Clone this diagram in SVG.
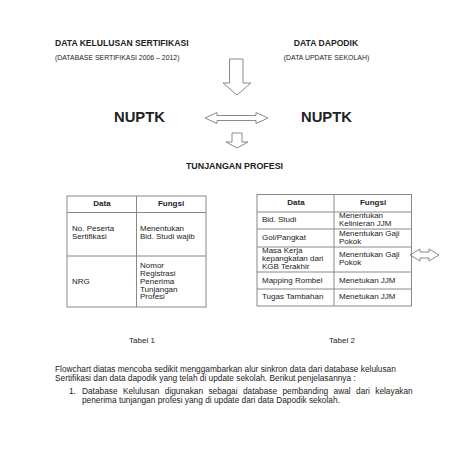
<svg xmlns="http://www.w3.org/2000/svg" width="452" height="452" viewBox="0 0 452 452">
<style>
text{font-family:"Liberation Sans",Arial,sans-serif;fill:#222}
.t{font-size:8.6px;font-weight:bold}
.s{font-size:6.9px}
.big{font-size:14.8px;font-weight:bold}
.c{font-size:8px}
.h{font-size:8px;font-weight:bold}
.b{font-size:8.3px}
.grid{fill:none;stroke:#888;stroke-width:1}
.arr{fill:#fff;stroke:#8a8a8a;stroke-width:1;stroke-linejoin:miter}
</style>
<rect width="452" height="452" fill="#fff"/>
<g id="title-sertifikasi">
<text class="t" x="55" y="46">DATA KELULUSAN SERTIFIKASI</text>
<text class="s" x="55" y="60">(DATABASE SERTIFIKASI 2006 – 2012)</text>
</g>
<g id="title-dapodik">
<text class="t" x="326" y="46" text-anchor="middle">DATA DAPODIK</text>
<text class="s" x="326.5" y="60" text-anchor="middle">(DATA UPDATE SEKOLAH)</text>
</g>
<g id="nuptk-left"><text class="big" x="114" y="122">NUPTK</text></g>
<g id="nuptk-right"><text class="big" x="301" y="122">NUPTK</text></g>
<g id="tunjangan"><text class="t" x="234.5" y="169" text-anchor="middle" style="font-size:8.9px">TUNJANGAN PROFESI</text></g>
<g id="connectors">
<path class="arr" d="M229.5,59 L243,59 L243,83 L251,83 L237,95 L223,83 L229.5,83 Z"/>
<path class="arr" d="M205,118 L217,112.5 L217,115.5 L256,115.5 L256,112.5 L268,118 L256,123.5 L256,120.5 L217,120.5 L217,123.5 Z"/>
<path class="arr" d="M232,133 L242,133 L242,142 L248,142 L237,148 L226,142 L232,142 Z"/>
<path class="arr" d="M410,255 L420,249 L420,252 L429,252 L429,249 L439,255 L429,261 L429,258 L420,258 L420,261 Z"/>
</g>
<g id="tabel-1">
<rect class="grid" x="67" y="196" width="139" height="111"/>
<line class="grid" x1="136.5" y1="196" x2="136.5" y2="307"/>
<line class="grid" x1="67" y1="212.5" x2="206" y2="212.5"/>
<line class="grid" x1="67" y1="256" x2="206" y2="256"/>
<text class="h" x="102" y="206" text-anchor="middle">Data</text>
<text class="h" x="171" y="206" text-anchor="middle">Fungsi</text>
<text class="c" x="72" y="231">No. Peserta</text>
<text class="c" x="72" y="239">Sertifikasi</text>
<text class="c" x="140" y="231">Menentukan</text>
<text class="c" x="140" y="239">Bid. Studi wajib</text>
<text class="c" x="72" y="284">NRG</text>
<text class="c" x="140" y="268">Nomor</text>
<text class="c" x="140" y="276">Registrasi</text>
<text class="c" x="140" y="284">Penerima</text>
<text class="c" x="140" y="291.5">Tunjangan</text>
<text class="c" x="140" y="299">Profesi</text>
<text class="c" x="142" y="343" text-anchor="middle">Tabel 1</text>
</g>
<g id="tabel-2">
<rect class="grid" x="257" y="194.5" width="154.5" height="111.5"/>
<line class="grid" x1="334" y1="194.5" x2="334" y2="306"/>
<line class="grid" x1="257" y1="212" x2="411.5" y2="212"/>
<line class="grid" x1="257" y1="229" x2="411.5" y2="229"/>
<line class="grid" x1="257" y1="247" x2="411.5" y2="247"/>
<line class="grid" x1="257" y1="272" x2="411.5" y2="272"/>
<line class="grid" x1="257" y1="289" x2="411.5" y2="289"/>
<text class="h" x="296" y="205" text-anchor="middle">Data</text>
<text class="h" x="373" y="205" text-anchor="middle">Fungsi</text>
<text class="c" x="262" y="222">Bid. Studi</text>
<text class="c" x="339" y="218">Menentukan</text>
<text class="c" x="339" y="226">Kelinieran JJM</text>
<text class="c" x="262" y="240">Gol/Pangkat</text>
<text class="c" x="339" y="236">Menentukan Gaji</text>
<text class="c" x="339" y="243.5">Pokok</text>
<text class="c" x="262" y="253">Masa Kerja</text>
<text class="c" x="262" y="261">kepangkatan dari</text>
<text class="c" x="262" y="268.5">KGB Terakhir</text>
<text class="c" x="339" y="257">Menentukan Gaji</text>
<text class="c" x="339" y="265">Pokok</text>
<text class="c" x="262" y="283">Mapping Rombel</text>
<text class="c" x="339" y="283">Menetukan JJM</text>
<text class="c" x="262" y="299">Tugas Tambahan</text>
<text class="c" x="339" y="299">Menetukan JJM</text>
<text class="c" x="342" y="343" text-anchor="middle">Tabel 2</text>
</g>
<g id="keterangan">
<text class="b" x="55" y="372">Flowchart diatas mencoba sedikit menggambarkan alur sinkron data dari database kelulusan</text>
<text class="b" x="55" y="381">Sertifikasi dan data dapodik yang telah di update sekolah. Berikut penjelasannya :</text>
<text class="b" x="69" y="394">1.</text>
<text class="b" x="82" y="394" word-spacing="3.1">Database Kelulusan digunakan sebagai database pembanding awal dari kelayakan</text>
<text class="b" x="82" y="403">penerima tunjangan profesi yang di update dari data Dapodik sekolah.</text>
</g>
</svg>
